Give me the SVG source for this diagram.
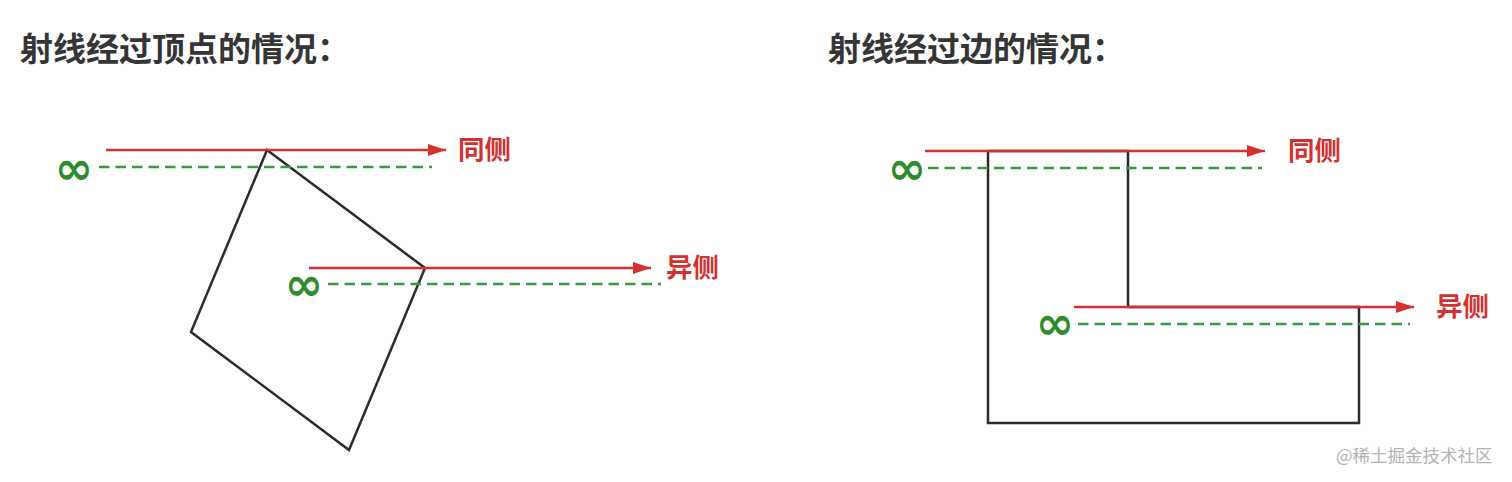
<svg xmlns="http://www.w3.org/2000/svg" width="1512" height="482" viewBox="0 0 1512 482">
<style>
.title{font-family:"Noto Sans CJK SC","Noto Sans",sans-serif;font-size:33px;font-weight:bold;fill:#353535}
.lbl{font-family:"Noto Sans CJK SC","Noto Sans",sans-serif;font-size:26.5px;font-weight:bold;fill:#d3312f}
.inf{font-family:"DejaVu Sans",sans-serif;font-size:46px;font-weight:bold;fill:#2e8b2e}
.ray{stroke:#d3312f;stroke-width:2.5;fill:none}
.dash{stroke:#3a9a3a;stroke-width:2.5;stroke-dasharray:10.5 6;fill:none}
.shape{stroke:#2b2b2b;stroke-width:2.5;fill:none;stroke-linejoin:miter}
.wm{font-family:"Noto Sans CJK SC","Noto Sans",sans-serif;font-size:17.5px;fill:#b3b3b3}
</style>
<defs>
<marker id="ah" markerUnits="userSpaceOnUse" markerWidth="20" markerHeight="14" refX="18" refY="6" orient="auto">
<path d="M0,0 L18,6 L0,12 Z" fill="#d3312f"/>
</marker>
</defs>
<rect width="1512" height="482" fill="#ffffff"/>
<text class="title" x="20" y="61">射线经过顶点的情况：</text>
<text class="title" x="828" y="61">射线经过边的情况：</text>

<g id="vertex-polygon"><polygon class="shape" points="267,150 425,268 349,450 191,332"/></g>
<g id="edge-polygon"><polygon class="shape" points="988,151 1128,151 1128,307 1359,307 1359,423 988,423"/></g>

<g id="connectors">
<line class="ray" x1="106" y1="150" x2="446" y2="150" marker-end="url(#ah)"/>
<line class="dash" x1="99" y1="167" x2="432" y2="167"/>
<line class="ray" x1="309" y1="268" x2="651" y2="268" marker-end="url(#ah)"/>
<line class="dash" x1="328" y1="284" x2="661" y2="284"/>
<line class="ray" x1="925" y1="151" x2="1265" y2="151" marker-end="url(#ah)"/>
<line class="dash" x1="928" y1="168" x2="1262" y2="168"/>
<line class="ray" x1="1074" y1="307" x2="1414" y2="307" marker-end="url(#ah)"/>
<line class="dash" x1="1078" y1="324" x2="1410" y2="324"/>
</g>

<g id="labels">
<text class="lbl" x="458" y="159">同侧</text>
<text class="lbl" x="666" y="277">异侧</text>
<text class="lbl" x="1288" y="160">同侧</text>
<text class="lbl" x="1436" y="316">异侧</text>
</g>
<g id="infinity">
<text class="inf" x="74" y="168" text-anchor="middle" dominant-baseline="central">∞</text>
<text class="inf" x="304" y="284" text-anchor="middle" dominant-baseline="central">∞</text>
<text class="inf" x="907" y="168" text-anchor="middle" dominant-baseline="central">∞</text>
<text class="inf" x="1055" y="323" text-anchor="middle" dominant-baseline="central">∞</text>
</g>
<text class="wm" x="1336" y="462">@稀土掘金技术社区</text>
</svg>
